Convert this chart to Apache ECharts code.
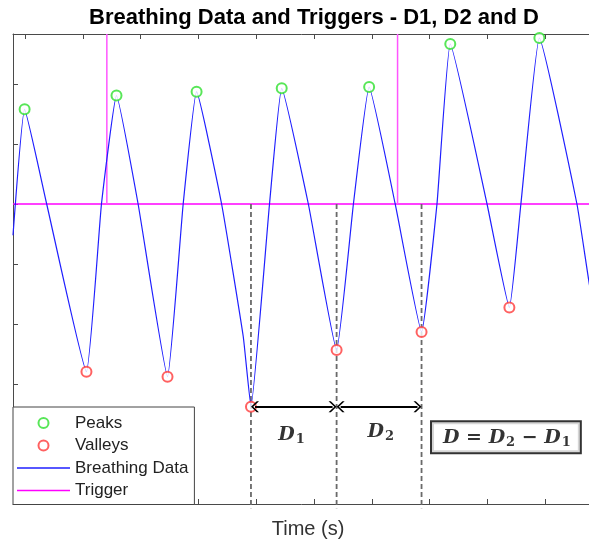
<!DOCTYPE html>
<html>
<head>
<meta charset="utf-8">
<script src="https://cdn.jsdelivr.net/npm/echarts@6/dist/echarts.min.js"></script>
<style>
  html, body { margin: 0; padding: 0; background: #ffffff; }
  #chart { width: 589px; height: 544px; }
</style>
</head>
<body>
<div id="chart"></div>
<script>
// Breathing signal samples (time in s, amplitude in arbitrary units)
const timeS = [0.79, 0.991, 1.373, 2.061, 2.321, 2.581, 2.955, 3.464, 3.735, 3.967,
  4.400, 4.775, 4.908, 5.229, 5.440, 5.901, 6.390, 6.681, 6.953,
  7.404, 7.860, 8.127, 8.357, 8.993, 9.380, 9.579, 9.899, 10.549, 10.766,
  10.922];
const breathing = [-0.52, 1.578, 0, -2.795, 0, 1.808, 0, -2.878, 0, 1.872,
  0, -2.212, -3.378, 0, 1.928, 0, -2.433, 0, 1.95,
  0, -2.133, 0, 2.667, 0, -1.725, 0, 2.767, 0, -1.35,
  -2.1];

// Detected extrema
const peakTimes = [0.991, 2.581, 3.967, 5.440, 6.953, 8.357, 9.899];
const peakValues = [1.578, 1.808, 1.872, 1.928, 1.95, 2.667, 2.767];
const valleyTimes = [2.061, 3.464, 4.908, 6.390, 7.860, 9.380];
const valleyValues = [-2.795, -2.878, -3.378, -2.433, -2.133, -1.725];

// Trigger events and threshold level
const triggerTimes = [2.414, 7.445];
const triggerLevel = 0;

// Valleys bounding the D1 and D2 intervals
const intervalValleys = [2, 3, 4];

// Tick positions along the time axis (no labels drawn)
const timeTicks = [1, 2, 3, 4, 5, 6, 7, 8, 9, 10, 11];

const X_MIN = 0.79, X_MAX = 11.0;
const Y_MIN = -5, Y_MAX = 2.8333;

const SANS = '"Liberation Sans", Arial, sans-serif';
const MATH = '"DejaVu Serif", "Liberation Serif", serif';
const AXIS_COLOR = '#4a4a4a';
const BLUE = '#1f1fff';
const MAGENTA = '#ff00ff';

const chevron = 'path://M10,0 L20,9 L20,12.5 L10,3.5 L0,12.5 L0,9 Z';
const arrowHalf = 0.07; // half chevron length, in seconds
const lineIcon = 'path://M0,0 L53,0 L53,1.4 L0,1.4 Z';

const pairs = (xs, ys) => xs.map((x, i) => [x, ys[i]]);

const noStroke = { textBorderWidth: 0, textBorderColor: 'transparent', textShadowBlur: 0 };
const mathRich = {
  d: Object.assign({ fontFamily: MATH, fontStyle: 'italic', fontWeight: 'bold', fontSize: 19, color: '#000' }, noStroke),
  s: Object.assign({ fontFamily: MATH, fontWeight: 'bold', fontSize: 13, color: '#000', padding: [9, 0, 0, 1] }, noStroke),
  op: Object.assign({ fontFamily: MATH, fontWeight: 'bold', fontSize: 19, color: '#000' }, noStroke)
};

const v0 = intervalValleys[0], v1 = intervalValleys[1], v2 = intervalValleys[2];
const arrowY = valleyValues[v0];

const series = [];

// Trigger threshold and trigger events
series.push({
  name: 'Trigger', type: 'line', symbol: 'none', silent: true, z: 1,
  itemStyle: { color: MAGENTA },
  lineStyle: { color: MAGENTA, width: 1.6 },
  data: [[X_MIN, triggerLevel], [X_MAX, triggerLevel]]
});
triggerTimes.forEach(t => {
  series.push({
    name: 'Trigger', type: 'line', symbol: 'none', silent: true, z: 1,
    itemStyle: { color: MAGENTA },
    lineStyle: { color: '#ff55ff', width: 1.5 },
    data: [[t, triggerLevel], [t, Y_MAX]]
  });
});

// Dashed guides at the interval valleys
intervalValleys.forEach((vi, k) => {
  const s = {
    name: 'guide' + k, type: 'line', symbol: 'none', silent: true, clip: false, z: 2,
    lineStyle: { color: '#6a6a6a', width: 1.8, type: [5, 3] },
    data: [[valleyTimes[vi], triggerLevel], [valleyTimes[vi], Y_MIN - 0.07]]
  };
  if (k === 0) {
    s.markLine = {
      silent: true, animation: false,
      symbol: [chevron, chevron], symbolSize: [11, 8],
      lineStyle: { color: '#000', width: 2, type: 'solid' },
      label: { show: false },
      data: [
        [{ coord: [valleyTimes[v0] + arrowHalf, arrowY] }, { coord: [valleyTimes[v1] - arrowHalf, arrowY] }],
        [{ coord: [valleyTimes[v1] + arrowHalf, arrowY] }, { coord: [valleyTimes[v2] - arrowHalf, arrowY] }]
      ]
    };
  }
  series.push(s);
});

// Breathing curve
series.push({
  name: 'Breathing Data', type: 'line', symbol: 'none', z: 3,
  smooth: 0.12,
  itemStyle: { color: BLUE },
  lineStyle: { color: BLUE, width: 1.2 },
  data: pairs(timeS, breathing)
});

// Extrema markers
series.push({
  name: 'Peaks', type: 'scatter', symbol: 'emptyCircle', symbolSize: 10, z: 4,
  itemStyle: { color: '#2ee02e', borderColor: '#2ee02e', borderWidth: 1.2 },
  data: pairs(peakTimes, peakValues)
});
series.push({
  name: 'Valleys', type: 'scatter', symbol: 'emptyCircle', symbolSize: 10, z: 4,
  itemStyle: { color: '#ff3a3a', borderColor: '#ff3a3a', borderWidth: 1.2 },
  data: pairs(valleyTimes, valleyValues)
});

// Interval labels and the difference formula
series.push({
  name: 'notes', type: 'scatter', symbolSize: 0, silent: true, z: 6,
  itemStyle: { color: 'transparent' },
  data: [
    {
      value: [(valleyTimes[v0] + valleyTimes[v1]) / 2 - 0.04, arrowY - 0.47],
      label: Object.assign({ show: true, position: 'inside', formatter: '{d|D}{s|1}', rich: mathRich }, noStroke)
    },
    {
      value: [(valleyTimes[v1] + valleyTimes[v2]) / 2 + 0.03, arrowY - 0.42],
      label: Object.assign({ show: true, position: 'inside', formatter: '{d|D}{s|2}', rich: mathRich }, noStroke)
    },
    {
      value: [9.32, arrowY - 0.51],
      label: Object.assign({
        show: true, position: 'inside',
        formatter: '{d|D}{op| = }{d|D}{s|2}{op| \u2212 }{d|D}{s|1}',
        rich: mathRich,
        borderColor: '#000', borderWidth: 2, padding: [5, 9, 3, 11], backgroundColor: '#fff'
      }, noStroke)
    }
  ]
});

const chart = echarts.init(document.getElementById('chart'), null, { renderer: 'canvas' });
chart.setOption({
  animation: false,
  backgroundColor: '#ffffff',
  title: {
    text: 'Breathing Data and Triggers - D1, D2 and D',
    left: 314, top: 7, textAlign: 'center', padding: 0,
    textStyle: { fontFamily: SANS, fontWeight: 'bold', fontSize: 22, color: '#000' }
  },
  grid: { left: 13, top: 34, bottom: 40, right: -14, outerBoundsMode: 'none', containLabel: false },
  legend: {
    data: [
      { name: 'Peaks' },
      { name: 'Valleys' },
      { name: 'Breathing Data', icon: lineIcon },
      { name: 'Trigger', icon: lineIcon }
    ],
    orient: 'vertical', left: 13, top: 407,
    padding: [6, 6, 4, 4], itemGap: 2.5, itemWidth: 53, itemHeight: 10,
    backgroundColor: '#fff', borderColor: '#444', borderWidth: 1, borderRadius: 0,
    textStyle: { fontFamily: SANS, fontSize: 17, color: '#222', lineHeight: 20, padding: [0, 0, 0, 0] },
    selectedMode: false
  },
  xAxis: [
    {
      type: 'value', min: X_MIN, max: X_MAX, position: 'bottom',
      name: 'Time (s)', nameLocation: 'middle', nameGap: 15,
      nameTextStyle: { fontFamily: SANS, fontSize: 20, color: '#333' },
      axisLine: { show: true, onZero: false, lineStyle: { color: AXIS_COLOR, width: 1 } },
      axisTick: { show: true, inside: true, length: 5, customValues: timeTicks, lineStyle: { color: AXIS_COLOR } },
      axisLabel: { show: false },
      splitLine: { show: false }
    },
    {
      type: 'value', min: X_MIN, max: X_MAX, position: 'top',
      axisLine: { show: true, onZero: false, lineStyle: { color: AXIS_COLOR, width: 1 } },
      axisTick: { show: true, inside: true, length: 5, customValues: timeTicks, lineStyle: { color: AXIS_COLOR } },
      axisLabel: { show: false },
      splitLine: { show: false }
    }
  ],
  yAxis: {
    type: 'value', min: Y_MIN, max: Y_MAX, interval: 1,
    axisLine: { show: true, onZero: false, lineStyle: { color: AXIS_COLOR, width: 1 } },
    axisTick: { show: true, inside: true, length: 5, lineStyle: { color: AXIS_COLOR } },
    axisLabel: { show: false },
    splitLine: { show: false }
  },
  series: series
});
</script>
</body>
</html>
